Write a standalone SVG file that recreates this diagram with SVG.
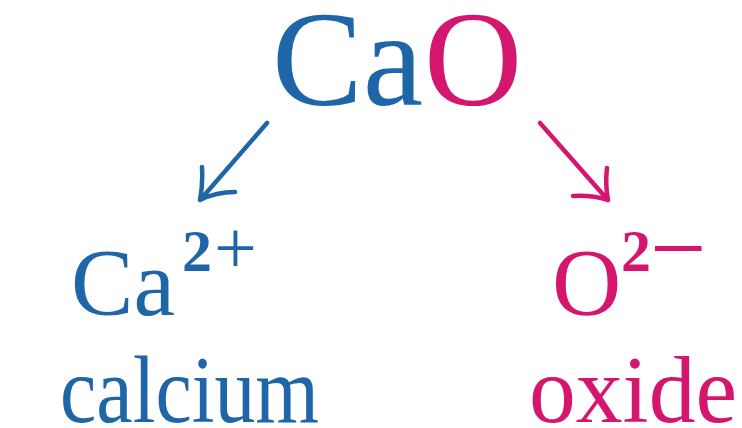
<svg xmlns="http://www.w3.org/2000/svg" width="742" height="428" viewBox="0 0 742 428">
<rect width="742" height="428" fill="#fff"/>
<g id="cao">
<text x="272" y="105" font-size="136" font-family="'Liberation Serif', 'Times New Roman', serif" fill="#1f66a9">Ca</text>
<text x="424" y="105" font-size="136" font-family="'Liberation Serif', 'Times New Roman', serif" fill="#d5166f">O</text>
</g>
<g id="calcium">
<text x="71" y="315" font-size="96" font-family="'Liberation Serif', 'Times New Roman', serif" fill="#1f66a9" textLength="104" lengthAdjust="spacingAndGlyphs">Ca</text>
<text x="182" y="271" font-size="60" font-family="'Liberation Serif', 'Times New Roman', serif" font-weight="bold" fill="#1f66a9">2</text>
<text x="214" y="273" font-size="76" font-family="'Liberation Serif', 'Times New Roman', serif" fill="#1f66a9">+</text>
<text x="60" y="422" font-size="96" font-family="'Liberation Serif', 'Times New Roman', serif" fill="#1f66a9" textLength="259" lengthAdjust="spacingAndGlyphs">calcium</text>
</g>
<g id="oxide">
<text x="552" y="315" font-size="96" font-family="'Liberation Serif', 'Times New Roman', serif" fill="#d5166f">O</text>
<text x="621" y="271" font-size="60" font-family="'Liberation Serif', 'Times New Roman', serif" font-weight="bold" fill="#d5166f">2</text>
<text x="650" y="282" font-size="100" font-family="'Liberation Serif', 'Times New Roman', serif" fill="#d5166f">−</text>
<text x="529" y="422" font-size="96" font-family="'Liberation Serif', 'Times New Roman', serif" fill="#d5166f" textLength="208" lengthAdjust="spacingAndGlyphs">oxide</text>
</g>
<g id="connectors" fill="none" stroke-width="4.5" stroke-linecap="round" stroke-linejoin="round">
<path stroke="#1f66a9" d="M267,123 L201,199 M202,167 Q203,185 200,200 Q216,192 235,192"/>
<path stroke="#d5166f" d="M540,123 L607,199 M573,196 Q592,195 608,200 Q605,184 607,168"/>
</g>
</svg>
